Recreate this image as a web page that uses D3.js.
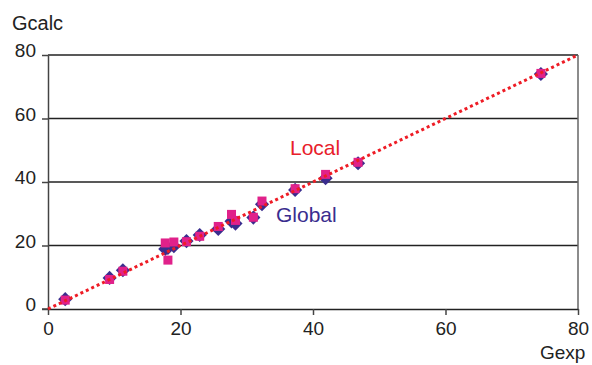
<!DOCTYPE html>
<html><head><meta charset="utf-8">
<script src="https://cdn.jsdelivr.net/npm/d3@7"></script>
<style>body{margin:0;background:#fff}svg{display:block}text{font-family:"Liberation Sans",Arial,sans-serif}</style>
</head><body><svg id="c" width="592" height="365"></svg>
<script>
const gexp   = [2.6, 9.3, 11.3, 17.7, 18.1, 19.0, 20.9, 22.9, 25.7, 27.7, 28.3, 31.0, 32.3, 37.3, 41.9, 46.8, 74.4];
const global = [3.1, 9.8, 12.2, 18.9, 19.2, 19.8, 21.4, 23.3, 25.2, 27.6, 26.9, 28.8, 33.0, 37.5, 41.2, 45.9, 74.0];
const local  = [2.8, 9.3, 11.9, 20.8, 15.4, 21.1, 21.2, 22.9, 26.0, 29.8, 27.9, 28.9, 34.0, 37.9, 42.4, 46.2, 74.2];
const xTicks = [0, 20, 40, 60, 80];
const yTicks = [0, 20, 40, 60, 80];

const svg = d3.select("#c");
const x = d3.scaleLinear().domain([0, 80]).range([48, 578]);
const y = d3.scaleLinear().domain([0, 80]).range([309, 55]);

svg.append("g").selectAll("line").data(yTicks.filter(d => d > 0)).join("line")
  .attr("x1", x(0)).attr("x2", x(80)).attr("y1", d => y(d)).attr("y2", d => y(d))
  .attr("stroke", "#222").attr("stroke-width", 1.5);
svg.append("line").attr("x1", x(80)).attr("x2", x(80)).attr("y1", y(80)).attr("y2", y(0))
  .attr("stroke", "#666").attr("stroke-width", 1.5);

const ya = svg.append("g").attr("transform", `translate(${x(0)},0)`)
  .call(d3.axisLeft(y).tickValues(yTicks).tickSize(6).tickPadding(6).tickSizeOuter(0));
const xa = svg.append("g").attr("transform", `translate(0,${y(0)})`)
  .call(d3.axisBottom(x).tickValues(xTicks).tickSize(6).tickPadding(7).tickSizeOuter(0));
[ya, xa].forEach(a => {
  a.select(".domain").attr("stroke", "#444").attr("stroke-width", 1.5);
  a.selectAll(".tick line").attr("stroke", "#444").attr("stroke-width", 1.5);
  a.selectAll(".tick text").attr("fill", "#222").style("font-size", "19px")
   .style("font-family", '"Liberation Sans",Arial,sans-serif');
});
ya.selectAll(".tick text").attr("dy", "0.1em");
xa.select(".domain").attr("stroke", "#222");
svg.append("line").attr("x1", x(0) - 6).attr("x2", x(0)).attr("y1", y(0)).attr("y2", y(0))
  .attr("stroke", "#444").attr("stroke-width", 1.5);

const pts = gexp.map((g, i) => ({g, gl: global[i], lo: local[i]}));
svg.append("g").selectAll("path").data(pts).join("path")
  .attr("d", d3.symbol(d3.symbolSquare, 100))
  .attr("transform", d => `translate(${x(d.g)},${y(d.gl)}) rotate(45)`)
  .attr("fill", "#3a2d8e");
svg.append("g").selectAll("rect").data(pts).join("rect")
  .attr("x", d => x(d.g) - 4.5).attr("y", d => y(d.lo) - 4.5)
  .attr("width", 9).attr("height", 9).attr("fill", "#e0218a");

svg.append("line").attr("x1", x(0)).attr("y1", y(0)).attr("x2", x(80)).attr("y2", y(80))
  .attr("stroke", "#ee1c25").attr("stroke-width", 3).attr("stroke-dasharray", "3,3");

svg.append("text").attr("x", 12).attr("y", 30).text("Gcalc").attr("fill", "#222").style("font-size", "20px");
svg.append("text").attr("x", 540).attr("y", 359).text("Gexp").attr("fill", "#222").style("font-size", "19px");
svg.append("text").attr("x", 290).attr("y", 155).text("Local").attr("fill", "#e8202a").style("font-size", "21px");
svg.append("text").attr("x", 276).attr("y", 222).text("Global").attr("fill", "#3a2d8e").style("font-size", "21px");
</script></body></html>
